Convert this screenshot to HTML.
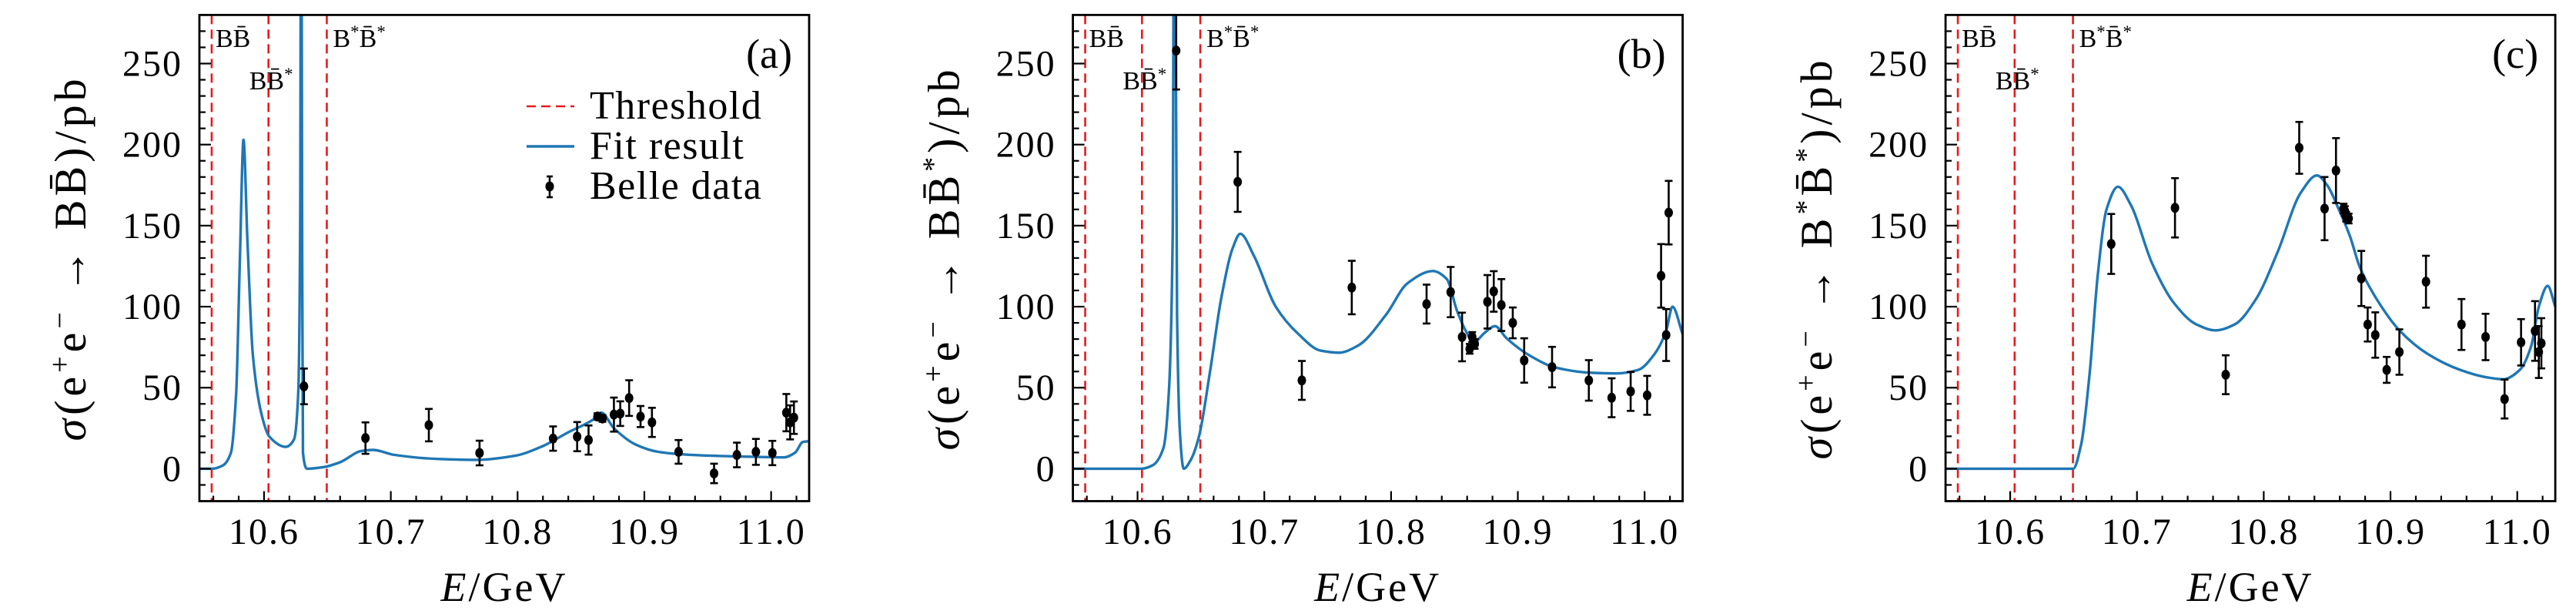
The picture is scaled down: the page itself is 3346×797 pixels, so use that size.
<!DOCTYPE html>
<html><head><meta charset="utf-8">
<style>
html,body{margin:0;padding:0;background:#fff;}
svg{display:block;font-family:"Liberation Serif","DejaVu Serif",serif;}
</style></head>
<body>
<svg id="chart" width="3346" height="797" viewBox="0 0 3346 797" xmlns="http://www.w3.org/2000/svg"></svg>
<script>
// ---------- data ----------
const thresholds = [10.5587, 10.6035, 10.6495];
const xTicks = [10.6, 10.7, 10.8, 10.9, 11.0];
const xTickLabels = ["10.6","10.7","10.8","10.9","11.0"];
const yTicks = [0, 50, 100, 150, 200, 250];
const yTickLabels = ["0","50","100","150","200","250"];

// panel (a) B B-bar
const fitA_E = [10.549,10.5587,10.5674,10.5739,10.578,10.581,10.5838,10.5868,10.5911,10.5976,10.604,10.617,10.6236,10.627,10.6285,10.6293,10.6300,10.6307,10.634,10.647,10.660,10.677,10.686,10.703,10.738,10.768,10.798,10.82,10.84,10.859,10.866,10.876,10.893,10.911,10.928,10.954,10.989,11.010,11.019,11.025,11.030];
const fitA_S = [0,0,2,10,47,131,203,143,71,35,20,13.5,18,47,150,420,150,10,0,1,4,11,11.6,8.5,6,5.5,8,14,22.5,30,34.6,25,15,10.4,9,8,7.3,7,10,16.5,17];
const datA_E = [10.6315,10.680,10.730,10.770,10.828,10.847,10.856,10.863,10.867,10.876,10.881,10.888,10.897,10.906,10.927,10.955,10.973,10.988,11.001,11.012,11.015,11.018];
const datA_S = [50.8,18.9,26.9,9.7,18.6,19.8,17.7,32.2,31,33.4,34,43.6,32.2,28.6,10.4,-2.9,8.5,10.4,9.7,34.6,28.6,31.5];
const datA_Err = [11,9.7,10,7.6,7.5,9,9,2,2,10.5,7.6,11,6.5,9,7.3,6,7.6,8,7.5,11.5,10.5,10];

// panel (b) B B*-bar
const fitB_E = [10.549,10.603,10.6117,10.6204,10.6247,10.6277,10.6290,10.6300,10.6312,10.6334,10.6364,10.642,10.6485,10.657,10.666,10.675,10.681,10.692,10.709,10.727,10.744,10.759,10.774,10.796,10.813,10.833,10.844,10.852,10.859,10.865,10.874,10.882,10.891,10.909,10.930,10.956,10.978,10.995,11.008,11.017,11.022,11.030];
const fitB_S = [0,0,2,12.8,47,143,420,300,95,22.5,0,5.5,20,59,105,136,145,131,100,83,73,71.6,76,95,114.5,122,117,97.5,85,78,84,88,80.6,70,62.4,59.3,58.8,61,71,85,100,83];
const datB_E = [10.6305,10.679,10.7296,10.769,10.828,10.847,10.856,10.862,10.864,10.866,10.876,10.881,10.887,10.896,10.905,10.927,10.956,10.974,10.989,11.002,11.013,11.017,11.019];
const datB_S = [258,177,54.5,111.8,101.6,109,81.3,74,81.3,77,103,109.4,101,90,66.8,62.7,54.5,43.8,47.7,45.3,119,82.5,158];
const datB_Err = [24,18.5,12,16.5,12,15.5,15,3,3,3,16.5,12.5,16,9.5,13.7,12.5,12.5,12,12,12,19.6,16,19.6];

// panel (c) B* B*-bar
const fitC_E = [10.549,10.6497,10.656,10.6627,10.669,10.676,10.685,10.695,10.712,10.729,10.747,10.762,10.777,10.794,10.811,10.829,10.842,10.850,10.859,10.868,10.876,10.889,10.907,10.929,10.955,10.976,10.989,11.002,11.011,11.017,11.024,11.030];
const fitC_S = [0,0,15.2,59,119,160,174,163,126.6,102.4,89,85.4,89,104.8,133.8,170,181,175,160.5,143.5,124,104.8,85.4,71,61,56.4,55.2,61,75.7,100,112.8,100];
const datC_E = [10.6797,10.730,10.770,10.828,10.848,10.857,10.863,10.864,10.865,10.867,10.877,10.882,10.888,10.897,10.907,10.928,10.956,10.975,10.990,11.003,11.014,11.017,11.019];
const datC_S = [138.7,161,58,198,160.5,184,160.5,159,155.6,154.4,117.4,89,82.5,61,72,115.4,89,81.3,43,78,85,72,77.4];
const datC_Err = [18.5,18.3,12,16,19.5,20,3,3,3,3,17,10.5,14,8,14,16,15.7,14.3,12,14.3,18.4,16,15.5];

// ---------- drawing ----------
const NS = "http://www.w3.org/2000/svg";
const svg = document.getElementById("chart");
function mk(tag, attrs, parent){
  const e = document.createElementNS(NS, tag);
  for (const k in attrs) e.setAttribute(k, attrs[k]);
  (parent||svg).appendChild(e);
  return e;
}
function smoothPath(pts){
  const n = pts.length;
  const dx = [], m = [], t = [];
  for (let i=0;i<n-1;i++){ dx.push(pts[i+1][0]-pts[i][0]); m.push((pts[i+1][1]-pts[i][1])/dx[i]); }
  t[0]=m[0]; t[n-1]=m[n-2];
  for (let i=1;i<n-1;i++){
    if (m[i-1]*m[i] <= 0) t[i]=0;
    else { const w1=2*dx[i]+dx[i-1], w2=dx[i]+2*dx[i-1]; t[i]=(w1+w2)/(w1/m[i-1]+w2/m[i]); }
  }
  let d = "M"+pts[0][0].toFixed(1)+","+pts[0][1].toFixed(1);
  for (let i=0;i<n-1;i++){
    const h=dx[i];
    d += "C"+(pts[i][0]+h/3).toFixed(1)+","+(pts[i][1]+t[i]*h/3).toFixed(1)+" "+
         (pts[i+1][0]-h/3).toFixed(1)+","+(pts[i+1][1]-t[i+1]*h/3).toFixed(1)+" "+
         pts[i+1][0].toFixed(1)+","+pts[i+1][1].toFixed(1);
  }
  return d;
}
const X0 = 10.549, X1 = 11.030, Y0 = -20, Y1 = 280;
const TOP = 19.4, BOT = 650.5, W = 792;
const BLUE = "#1f77b4", RED = "#e8191c";
const SUP = {"baseline-shift":"super","font-size":"38"};

const panels = [
  {left:259, id:"a", E:fitA_E, S:fitA_S, dE:datA_E, dS:datA_S, dErr:datA_Err, legend:true,
   ylab:[["σ",{"font-style":"italic"}],["(e",{}],["+",SUP],["e",{}],["−",SUP],[" → BB̄)/pb",{}]]},
  {left:1393.6, id:"b", E:fitB_E, S:fitB_S, dE:datB_E, dS:datB_S, dErr:datB_Err, legend:false,
   ylab:[["σ",{"font-style":"italic"}],["(e",{}],["+",SUP],["e",{}],["−",SUP],[" → BB̄",{}],["*",SUP],[")/pb",{}]]},
  {left:2527.1, id:"c", E:fitC_E, S:fitC_S, dE:datC_E, dS:datC_S, dErr:datC_Err, legend:false,
   ylab:[["σ",{"font-style":"italic"}],["(e",{}],["+",SUP],["e",{}],["−",SUP],[" → B",{}],["*",SUP],["B̄",{}],["*",SUP],[")/pb",{}]]}
];

panels.forEach(p => {
  const L = p.left, R = L + W;
  const xs = e => L + (e - X0) / (X1 - X0) * W;
  const ys = v => BOT - (v - Y0) / (Y1 - Y0) * (BOT - TOP);
  const g = mk("g", {});
  
  

  const clip = mk("clipPath", {id:"clip-"+p.id}, g);
  mk("rect", {x:L, y:TOP, width:W, height:BOT-TOP}, clip);

  thresholds.forEach((t,i) => {
    const l = mk("line", {x1:xs(t), x2:xs(t), y1:TOP, y2:BOT, stroke:RED, "stroke-width":2.6, "stroke-dasharray":"12,7"}, g);
    
    
  });
  const tl1 = mk("text", {x:xs(thresholds[0])+5, y:61, "font-size":34}, g);
  tl1.textContent = "BB̄";
  
  
  const tl2 = mk("text", {x:xs(thresholds[1])-25, y:116, "font-size":34}, g);
  
  
  tl2.appendChild(document.createTextNode("BB̄"));
  const s2 = mk("tspan", {"baseline-shift":"super","font-size":23}, tl2); s2.textContent="*";
  const tl3 = mk("text", {x:xs(thresholds[2])+8, y:61, "font-size":34}, g);
  
  
  tl3.appendChild(document.createTextNode("B"));
  const s3 = mk("tspan", {"baseline-shift":"super","font-size":23}, tl3); s3.textContent="*";
  const t3b = mk("tspan", {}, tl3); t3b.textContent="B̄";
  const s4 = mk("tspan", {"baseline-shift":"super","font-size":23}, tl3); s4.textContent="*";

  const pts = p.E.map((e,i) => [xs(e), ys(p.S[i])]);
  const fit = mk("path", {d:smoothPath(pts), fill:"none", stroke:BLUE, "stroke-width":3.4, "stroke-linejoin":"round", "clip-path":"url(#clip-"+p.id+")"}, g);
  
  

  p.dE.forEach((e,i) => {
    const x = xs(e), y = ys(p.dS[i]), yt = ys(p.dS[i]+p.dErr[i]), yb = ys(p.dS[i]-p.dErr[i]);
    const pg = mk("g", {"clip-path":"url(#clip-"+p.id+")"}, g);
    
    
    mk("line", {x1:x, x2:x, y1:yt, y2:yb, stroke:"#000", "stroke-width":2.6}, pg);
    mk("line", {x1:x-5, x2:x+5, y1:yt, y2:yt, stroke:"#000", "stroke-width":2.6}, pg);
    mk("line", {x1:x-5, x2:x+5, y1:yb, y2:yb, stroke:"#000", "stroke-width":2.6}, pg);
    mk("ellipse", {cx:x, cy:y, rx:5.5, ry:6.5, fill:"#000"}, pg);
  });

  for (let v = -20; v <= 280; v += 10) {
    const major = v % 50 === 0;
    const t = mk("line", {x1:L, x2:L+(major?15:8), y1:ys(v), y2:ys(v), stroke:"#000", "stroke-width":2.2}, g);
    
    
  }
  for (let k = 0; k <= 24; k++) {
    const v = 10.56 + k*0.02;
    if (v > X1) break;
    const major = Math.abs(Math.round(v*10) - v*10) < 1e-6;
    const t = mk("line", {x1:xs(v), x2:xs(v), y1:BOT, y2:BOT-(major?13:7), stroke:"#000", "stroke-width":2.2}, g);
    
    
  }
  yTicks.forEach((v,i) => {
    const t = mk("text", {x:L-22, y:ys(v)+16, "font-size":48, "text-anchor":"end", "letter-spacing":2}, g);
    t.textContent = yTickLabels[i];
    
    
  });
  xTicks.forEach((v,i) => {
    const t = mk("text", {x:xs(v), y:706, "font-size":48, "text-anchor":"middle", "letter-spacing":2}, g);
    t.textContent = xTickLabels[i];
    
    
  });

  const fr = mk("rect", {x:L, y:TOP, width:W, height:BOT-TOP, fill:"none", stroke:"#000", "stroke-width":2.8}, g);
  
  

  const xt = mk("text", {x:L+W/2, y:780, "font-size":54, "text-anchor":"middle", "letter-spacing":3}, g);
  
  
  const xe = mk("tspan", {"font-style":"italic"}, xt); xe.textContent = "E";
  const xr = mk("tspan", {}, xt); xr.textContent = "/GeV";

  const yt = mk("text", {x:0, y:0, "font-size":58, "text-anchor":"middle", "letter-spacing":5, "xml:space":"preserve", style:"white-space:pre", transform:"translate("+(L-148)+","+((TOP+BOT)/2)+") rotate(-90)"}, g);
  
  
  p.ylab.forEach(part => {
    const ts = mk("tspan", part[1], yt); ts.textContent = part[0];
  });

  const pl = mk("text", {x:R-22, y:88, "font-size":54, "text-anchor":"end"}, g);
  pl.textContent = "(" + p.id + ")";
  
  

  if (p.legend) {
    const lg = mk("g", {}, g);
    
    
    const e1 = mk("g", {}, lg);
    
    
    mk("line", {x1:684, x2:746, y1:138, y2:138, stroke:RED, "stroke-width":2.6, "stroke-dasharray":"12,7"}, e1);
    const t1 = mk("text", {x:766, y:154, "font-size":52, "letter-spacing":1.5}, e1); t1.textContent = "Threshold";
    const e2 = mk("g", {}, lg);
    
    
    mk("line", {x1:684, x2:746, y1:190, y2:190, stroke:BLUE, "stroke-width":3.4}, e2);
    const t2 = mk("text", {x:766, y:206, "font-size":52, "letter-spacing":1.5}, e2); t2.textContent = "Fit result";
    const e3 = mk("g", {}, lg);
    
    
    mk("line", {x1:714, x2:714, y1:229, y2:256, stroke:"#000", "stroke-width":2.6}, e3);
    mk("line", {x1:710, x2:718, y1:229, y2:229, stroke:"#000", "stroke-width":2.6}, e3);
    mk("line", {x1:710, x2:718, y1:256, y2:256, stroke:"#000", "stroke-width":2.6}, e3);
    mk("ellipse", {cx:714, cy:242, rx:5.5, ry:6.5, fill:"#000"}, e3);
    const t3 = mk("text", {x:766, y:258, "font-size":52, "letter-spacing":1.5}, e3); t3.textContent = "Belle data";
  }
});
</script>
</body></html>
